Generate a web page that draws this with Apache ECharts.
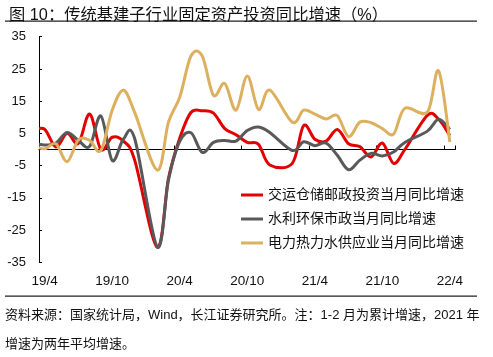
<!DOCTYPE html>
<html>
<head>
<meta charset="utf-8">
<script src="https://cdn.jsdelivr.net/npm/echarts@6/dist/echarts.min.js"></script>
<style>
html,body{margin:0;padding:0;background:#fff;}
#c{width:493px;height:357px;}
</style>
</head>
<body>
<div id="c"></div>
<script>
var categories = ['19/3','19/4','19/5','19/6','19/7','19/8','19/9','19/10','19/11','19/12',
  '20/1','20/2','20/3','20/4','20/5','20/6','20/7','20/8','20/9','20/10','20/11','20/12',
  '21/1','21/2','21/3','21/4','21/5','21/6','21/7','21/8','21/9','21/10','21/11','21/12',
  '22/1','22/2','22/3','22/4'];

var transport = [6.0, 6.3, 0.8, 5.0, 1.9, 11.0, 0.0, 3.8, 2.6, -3.3,
  null, -30.3, -9.0, 3.5, 11.5, 12.0, 11.3, 6.5, 4.6, 2.2, 1.6, -4.8,
  null, -4.3, 7.4, 3.2, 2.6, 6.2, 1.8, 0.9, -2.3, 2.0, -4.3, 0.0,
  null, 10.6, 9.4, 4.3];

var water = [2.0, 1.4, 2.0, 5.3, 2.8, 1.0, 10.4, -3.4, 3.2, 3.4,
  null, -30.2, -9.5, 2.5, 5.2, -0.9, 2.2, 2.8, 2.6, 5.9, 7.0, 5.3,
  null, -0.3, 2.4, 1.2, 2.0, -1.8, -6.3, -3.3, -1.2, -2.0, -0.8, 2.2,
  null, 5.7, 9.4, 6.2];

var power = [1.2, 0.2, 1.8, -3.8, 3.0, 2.8, -0.3, 12.2, 18.4, 11.5,
  null, -6.4, 8.5, 16.2, 29.0, 29.0, 16.8, 20.5, 12.2, 22.8, 12.4, 18.4,
  null, 8.5, 12.2, 11.0, 9.5, 10.5, 4.0, 8.5, 8.3, 6.5, 4.8, 12.8,
  null, 11.6, 24.4, 2.3];

var seriesNames = ['交运仓储邮政投资当月同比增速', '水利环保市政当月同比增速', '电力热力水供应业当月同比增速'];
var seriesColors = ['#E20000', '#595959', '#DDB060'];
var yTicks = {min: -35, max: 35, step: 10};

var titleText = '图 10：传统基建子行业固定资产投资同比增速（%）';
var noteLine1 = '资料来源：国家统计局，Wind，长江证券研究所。注：1-2 月为累计增速，2021 年';
var noteLine2 = '增速为两年平均增速。';

var FONT = '"Liberation Sans", Arial, "Noto Sans CJK SC", sans-serif';
var chart = echarts.init(document.getElementById('c'), null, {renderer: 'canvas'});
function labelEvery(idx) { return idx % 6 === 1; }

// Smooth curve (Catmull-Rom style) through the points placed by the axes' own scales.
function curveSeries(name, values, color) {
  return {
    name: name,
    type: 'custom',
    xAxisIndex: 0,
    yAxisIndex: 0,
    clip: true,
    itemStyle: {color: color},
    color: color,
    encode: {x: 0, y: 1},
    data: values.map(function (v, i) { return [i, v]; }),
    renderItem: function (params, api) {
      if (params.dataIndex !== 1) return null;
      var pts = [];
      for (var i = 0; i < values.length; i++) {
        if (values[i] !== null) pts.push(api.coord([i, values[i]]));
      }
      var t = 1 / 6;
      var d = 'M' + pts[0][0] + ' ' + pts[0][1];
      for (var k = 0; k < pts.length - 1; k++) {
        var p0 = pts[k - 1] || pts[k];
        var p1 = pts[k];
        var p2 = pts[k + 1];
        var p3 = pts[k + 2] || pts[k + 1];
        var c1x = p1[0] + (p2[0] - p0[0]) * t;
        var c1y = p1[1] + (p2[1] - p0[1]) * t;
        var c2x = p2[0] - (p3[0] - p1[0]) * t;
        var c2y = p2[1] - (p3[1] - p1[1]) * t;
        d += ' C' + c1x + ' ' + c1y + ' ' + c2x + ' ' + c2y + ' ' + p2[0] + ' ' + p2[1];
      }
      return {
        type: 'path',
        shape: {pathData: d},
        style: {fill: 'none', stroke: color, lineWidth: 3, lineJoin: 'round', lineCap: 'butt'}
      };
    }
  };
}

var option = {
  backgroundColor: '#fff',
  animation: false,
  textStyle: {fontFamily: FONT},
  title: {
    text: titleText, left: 4, top: 2,
    textStyle: {fontSize: 16.3, fontWeight: 'normal', color: '#111', fontFamily: FONT}
  },
  graphic: [
    {type: 'rect', shape: {x: 5, y: 20.5, width: 472, height: 1.3}, style: {fill: '#222'}},
    {type: 'rect', shape: {x: 5, y: 295.5, width: 472, height: 1.3}, style: {fill: '#222'}},
    {type: 'text', left: 5, top: 309, style: {text: noteLine1, font: '13px ' + FONT, fill: '#111'}},
    {type: 'text', left: 5, top: 338, style: {text: noteLine2, font: '13px ' + FONT, fill: '#111'}}
  ],
  legend: {
    orient: 'vertical', left: 236, top: 183, itemWidth: 22, itemHeight: 3, itemGap: 10,
    icon: 'rect',
    textStyle: {fontSize: 14, color: '#111', fontFamily: FONT},
    data: seriesNames.map(function (n, i) { return {name: n, itemStyle: {color: seriesColors[i]}}; })
  },
  grid: {left: 39, right: 37.5, top: 36.7, bottom: 94.7, containLabel: false},
  xAxis: [
    {
      type: 'category', data: categories, min: 1, boundaryGap: true, position: 'bottom',
      axisLine: {show: false, onZero: false},
      axisTick: {show: false},
      axisLabel: {interval: labelEvery, margin: 12, fontSize: 13.5, color: '#111', fontFamily: FONT},
      splitLine: {show: false}
    },
    {
      type: 'category', data: categories, min: 1, boundaryGap: true, position: 'top',
      axisLine: {show: true, onZero: true, lineStyle: {color: '#000', width: 1}},
      axisTick: {show: true, interval: labelEvery, inside: false, length: 4, lineStyle: {color: '#000'}},
      axisLabel: {show: false, interval: labelEvery},
      splitLine: {show: false}
    }
  ],
  yAxis: {
    type: 'value', min: yTicks.min, max: yTicks.max, interval: yTicks.step,
    axisLine: {show: true, lineStyle: {color: '#000', width: 1}},
    axisTick: {show: true, inside: true, length: 3, lineStyle: {color: '#000'}},
    axisLabel: {fontSize: 13, color: '#111', margin: 13, fontFamily: FONT},
    splitLine: {show: false}
  },
  series: [
    curveSeries(seriesNames[0], transport, seriesColors[0]),
    curveSeries(seriesNames[1], water, seriesColors[1]),
    curveSeries(seriesNames[2], power, seriesColors[2])
  ]
};
chart.setOption(option);
</script>
</body>
</html>
